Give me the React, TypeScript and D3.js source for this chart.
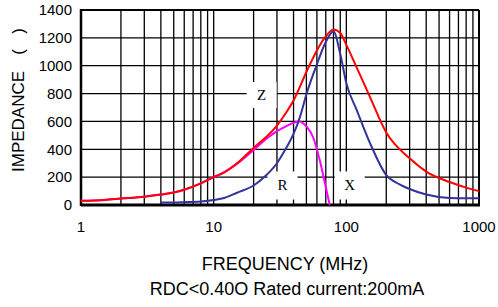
import React from 'react';
import * as d3 from 'd3';

// impedance vs frequency
const zFreq = [1, 1.5, 2, 3, 4, 5, 6, 8, 10, 12, 15, 20, 25, 30, 35, 40, 50, 60, 70, 80, 90, 100, 120, 150, 200, 300, 400, 600, 800, 1000];
const zVals = [30, 36, 46, 60, 75, 90, 110, 155, 200, 235, 300, 410, 490, 570, 660, 750, 955, 1110, 1210, 1260, 1235, 1150, 985, 780, 520, 335, 240, 165, 125, 100];

const xFreq = [4, 5, 6, 8, 10, 12, 15, 20, 25, 30, 35, 40, 45, 50, 60, 70, 80, 90, 100, 120, 150, 200, 250, 300, 400, 600, 800, 1000];
const xVals = [18, 18, 20, 25, 36, 50, 88, 140, 215, 300, 405, 510, 640, 795, 1010, 1170, 1245, 1085, 875, 680, 450, 215, 150, 115, 75, 50, 48, 48];

const rFreq = [1, 1.5, 2, 3, 4, 5, 6, 8, 10, 12, 15, 20, 25, 30, 35, 40, 44, 50, 56, 63, 69, 75];
const rVals = [30, 36, 46, 60, 75, 90, 110, 155, 200, 235, 295, 395, 475, 530, 565, 590, 600, 565, 490, 323, 156, 0];

const yTicks = [0, 200, 400, 600, 800, 1000, 1200, 1400];
const xTickLabels = [1, 10, 100, 1000];

const curveLabels = [
  { text: 'Z', f: 23, v: 790 },
  { text: 'R', f: 33, v: 147 },
  { text: 'X', f: 106, v: 147 },
];

const App = () => {
  const width = 498;
  const height = 307;
  const left = 81, right = 479, top = 10, bottom = 205;

  const x = d3.scaleLog().domain([1, 1000]).range([left, right]);
  const y = d3.scaleLinear().domain([0, 1400]).range([bottom, top]);

  const minor: number[] = [];
  [1, 10, 100].forEach(dec => {
    for (let i = 2; i <= 9; i++) minor.push(dec * i);
  });
  minor.push(10, 100);

  const line = d3.line<[number, number]>()
    .x(d => x(d[0]))
    .y(d => y(d[1]))
    .curve(d3.curveMonotoneX);

  const zPath = line(zFreq.map((f, i) => [f, zVals[i]]));
  const xPath = line(xFreq.map((f, i) => [f, xVals[i]]));
  const rPath = line(rFreq.map((f, i) => [f, rVals[i]]));

  const font = 'Arial, "Liberation Sans", sans-serif';

  return (
    <svg width={width} height={height} style={{ position: 'absolute', left: 0, top: 0, background: '#fff' }}>
      {/* grid */}
      <g stroke="#000" strokeWidth={1.3}>
        {minor.map(f => (
          <line key={'v' + f} x1={x(f)} x2={x(f)} y1={top} y2={bottom} />
        ))}
        {yTicks.slice(1, -1).map(v => (
          <line key={'h' + v} x1={left} x2={right} y1={y(v)} y2={y(v)} />
        ))}
      </g>

      {/* label boxes */}
      {curveLabels.map(l => (
        <g key={l.text}>
          <rect x={x(l.f) - 15} y={y(l.v) - 13} width={30} height={l.text === 'Z' ? 26 : 28} fill="#fff" />
          <text x={x(l.f)} y={y(l.v)} dy="0.35em" textAnchor="middle"
            fontFamily='"Liberation Serif", "Times New Roman", serif' fontSize={15}>{l.text}</text>
        </g>
      ))}

      {/* frame */}
      <g stroke="#000" fill="none">
        <line x1={left} x2={right} y1={top} y2={top} strokeWidth={2} />
        <line x1={right} x2={right} y1={top} y2={bottom} strokeWidth={2} />
        <line x1={left} x2={left} y1={top - 1} y2={bottom + 1} strokeWidth={2.5} />
        <line x1={left} x2={right + 1} y1={bottom} y2={bottom} strokeWidth={3} />
      </g>

      {/* curves */}
      <path d={rPath ?? ''} fill="none" stroke="#ff00ff" strokeWidth={2} />
      <path d={xPath ?? ''} fill="none" stroke="#333399" strokeWidth={2} />
      <path d={zPath ?? ''} fill="none" stroke="#ff0000" strokeWidth={2} />

      {/* axes labels */}
      <g fontFamily={font} fontSize={15} fill="#000">
        {yTicks.map(v => (
          <text key={v} x={left - 9} y={y(v)} dy="0.35em" textAnchor="end">{v}</text>
        ))}
        {xTickLabels.map(f => (
          <text key={f} x={x(f)} y={232} textAnchor="middle">{f}</text>
        ))}
      </g>
      <g transform="translate(24,0) rotate(-90)" fontFamily={font} fontSize={17} fill="#000">
        <text x={-172} y={0}>IMPEDANCE</text>
        <text x={-52} y={0} textAnchor="middle">(</text>
        <text x={-31} y={0} textAnchor="middle">)</text>
      </g>
      <g fontFamily={font} fontSize={18} fill="#000" textAnchor="middle">
        <text x={285} y={270}>FREQUENCY (MHz)</text>
        <text x={287} y={295}>RDC&lt;0.40O Rated current:200mA</text>
      </g>
    </svg>
  );
};

export default App;
